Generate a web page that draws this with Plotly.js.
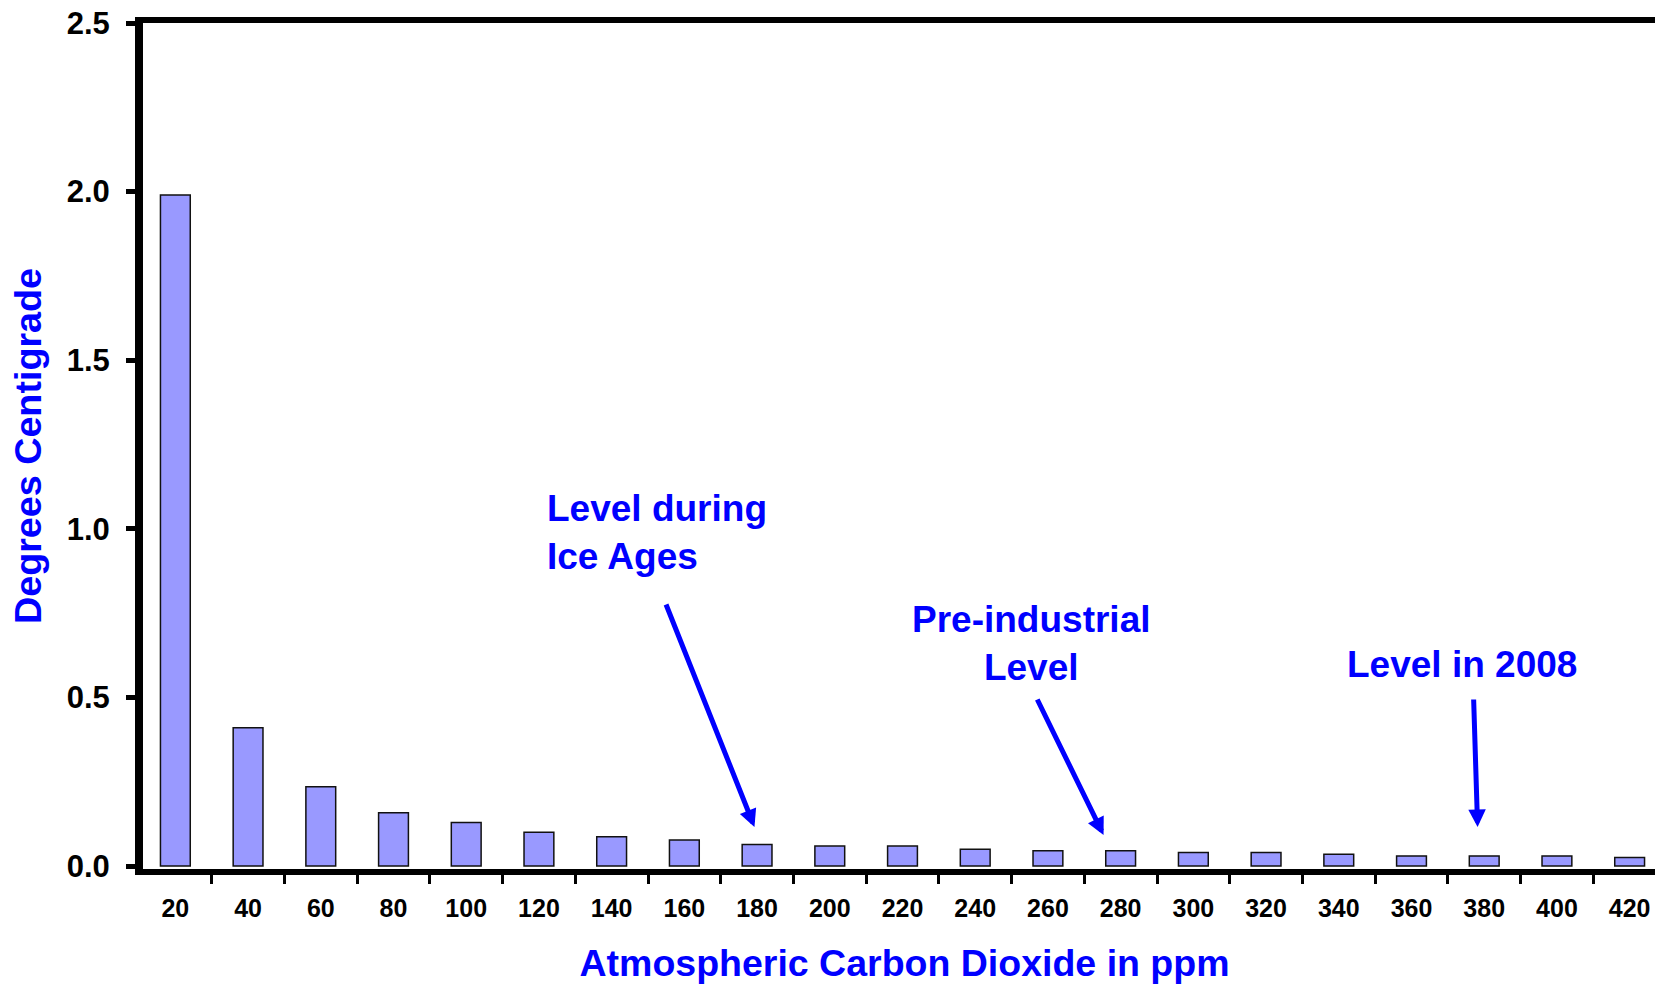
<!DOCTYPE html>
<html>
<head>
<meta charset="utf-8">
<script src="https://cdn.plot.ly/plotly-3.0.1.min.js"></script>
<style>
  html, body { margin: 0; padding: 0; overflow: hidden; background: #ffffff; }
  #chart { width: 1700px; height: 986px; }
</style>
</head>
<body>
<div id="chart"></div>
<script>
// CO2 concentration categories (ppm)
const co2Levels = ['20','40','60','80','100','120','140','160','180','200','220','240','260','280','300','320','340','360','380','400','420'];
// Warming contributed by each additional 20 ppm step (degrees C)
const warming = [1.99, 0.41, 0.235, 0.158, 0.129, 0.10, 0.087, 0.077, 0.064, 0.059, 0.059, 0.050, 0.045, 0.045, 0.040, 0.040, 0.035, 0.030, 0.030, 0.030, 0.025];
const yTicks = [0, 0.5, 1.0, 1.5, 2.0, 2.5];

const xTitle = 'Atmospheric Carbon Dioxide in ppm';
const yTitle = 'Degrees Centigrade';
const noteIceAges = 'Level during<br>Ice Ages';
const notePreIndustrial = 'Pre-industrial<br>Level';
const note2008 = 'Level in 2008';

const FONT = 'Arial, "Liberation Sans", sans-serif';
const BLUE = '#0000ff';

const trace = {
  type: 'bar',
  x: co2Levels,
  y: warming,
  marker: { color: '#9999ff', line: { color: '#111111', width: 1.5 } },
  hoverinfo: 'x+y'
};

function textNote(text, x, y, xanchor, align) {
  return {
    xref: 'x', yref: 'y', x: x, y: y, text: text, showarrow: false,
    xanchor: xanchor, yanchor: 'middle', align: align,
    font: { family: FONT, size: 37, color: BLUE, weight: 'bold' }
  };
}
function arrowNote(x, y, ax, ay) {
  return {
    xref: 'x', yref: 'y', x: x, y: y, text: '', showarrow: true,
    ax: ax, ay: ay, arrowhead: 2, arrowsize: 0.7, arrowwidth: 5,
    arrowcolor: BLUE, standoff: 0
  };
}

const layout = {
  width: 1700, height: 986,
  margin: { l: 143, r: 34, t: 23, b: 117, autoexpand: false },
  paper_bgcolor: '#ffffff', plot_bgcolor: '#ffffff',
  showlegend: false,
  bargap: 0.59,
  font: { family: FONT, color: '#000000' },
  xaxis: {
    type: 'category',
    automargin: false,
    range: [-0.445, 20.5],
    showline: true, linecolor: '#000000', linewidth: 6, mirror: true,
    ticks: 'outside', tickson: 'boundaries', ticklen: 9, tickwidth: 3, tickcolor: '#000000',
    tickfont: { family: FONT, size: 25, color: '#000000', weight: 'bold' },
    ticklabelstandoff: 12,
    showgrid: false, zeroline: false,
    title: { text: xTitle, font: { family: FONT, size: 37.5, color: BLUE, weight: 'bold' }, standoff: 31 }
  },
  yaxis: {
    automargin: false,
    range: [-0.0089, 2.5],
    tickvals: yTicks, tickformat: '.1f',
    showline: true, linecolor: '#000000', linewidth: 8, mirror: false,
    ticks: 'outside', ticklen: 9, tickwidth: 5, tickcolor: '#000000',
    tickfont: { family: FONT, size: 31, color: '#000000', weight: 'bold' },
    ticklabelstandoff: 10,
    showgrid: false, zeroline: false,
    title: { text: yTitle, font: { family: FONT, size: 37.7, color: BLUE, weight: 'bold' }, standoff: 16 }
  },
  annotations: [
    textNote(noteIceAges, 5.08, 0.988, 'left', 'left'),
    textNote(notePreIndustrial, 11.77, 0.661, 'center', 'center'),
    textNote(note2008, 17.70, 0.599, 'center', 'center'),
    arrowNote(7.964, 0.1157, -89, -224),
    arrowNote(12.765, 0.0919, -67, -137),
    arrowNote(17.909, 0.1157, -4, -129)
  ]
};

Plotly.newPlot('chart', [trace], layout, { displayModeBar: false, staticPlot: true });
</script>
</body>
</html>
